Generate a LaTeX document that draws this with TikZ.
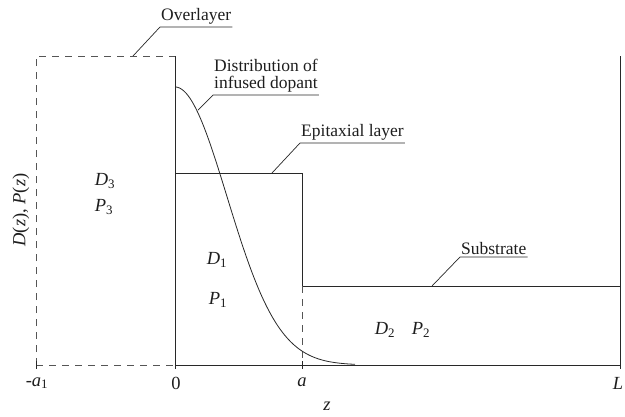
\documentclass[tikz,border=0pt]{standalone}
\usepackage{fontspec}
\setmainfont{Liberation Serif}
\usepackage{tikz}
\usetikzlibrary{positioning,calc}
\definecolor{linecolor}{RGB}{40, 40, 40}
\definecolor{dashcolor}{RGB}{85, 85, 85}
\definecolor{textcolor}{RGB}{30, 30, 30}
\newcommand{\regsym}[2]{\textit{#1}\textsubscript{#2}}
\tikzset{
layerline/.style={
  draw=linecolor,
  line width=0.9pt
},
dashline/.style={
  draw=dashcolor,
  line width=0.9pt,
  dash pattern=on 7pt off 6pt
},
leader/.style={
  draw=linecolor,
  line width=0.7pt
},
calloutlabel/.style={
  anchor=south west,
  align=left,
  inner xsep=1pt,
  inner ysep=2.5pt,
  text=textcolor,
  font=\fontsize{17.5}{17}\selectfont
},
regionlabel/.style={
  text=textcolor,
  font=\fontsize{18.5}{19}\selectfont
},
ticklabel/.style={
  text=textcolor,
  font=\fontsize{18.5}{19}\selectfont
}
}
\begin{document}
\begin{tikzpicture}[x=1pt, y=-1pt]
\useasboundingbox (0,0) rectangle (625,416);

% ============================================================================
% Corners of the layers
% ============================================================================
\coordinate (origin) at (175,365);
\coordinate (leftbot) at (36,365);
\coordinate (lefttop) at (36,56);
\coordinate (zerotop) at (175,56);
\coordinate (epitop) at (175,173);
\coordinate (epicorner) at (302,173);
\coordinate (stepcorner) at (302,286);
\coordinate (aaxis) at (302,365);
\coordinate (Ltop) at (620,56);
\coordinate (Lstep) at (620,286);
\coordinate (Laxis) at (620,365);

% ============================================================================
% Overlayer (dashed)
% ============================================================================
\draw[dashline] (leftbot) -- (lefttop) -- (zerotop);
\draw[dashline] (leftbot) -- (origin);

% ============================================================================
% Epitaxial layer and substrate
% ============================================================================
\draw[layerline] (zerotop) -- (origin) -- (Laxis) -- (Ltop);
\draw[layerline] (epitop) -- (epicorner) -- (stepcorner) -- (Lstep);
\draw[dashline] (stepcorner) -- (aaxis);

% Ticks
\foreach \tx in {36,175,302,620}
  \draw[layerline] (\tx,361) -- (\tx,369);

% Distribution of dopant
\draw[leader, line width=0.8pt] plot[domain=176:355, samples=90]
  (\x, {365-278*exp(-(((\x-175)/100)^2)/0.5392)});

% ============================================================================
% Callouts
% ============================================================================
\coordinate (ovlpt) at (133,56);
\coordinate (dopt) at (198,110);
\coordinate (epipt) at (272,173);
\coordinate (subpt) at (432,286);

\node[calloutlabel] (overlayer) at (160,27) {Overlayer};
\node[calloutlabel] (dopant) at (213,95) {Distribution of\\infused dopant};
\node[calloutlabel] (epitaxial) at (300,143) {Epitaxial layer};
\node[calloutlabel] (substrate) at (460,257) {Substrate};

\draw[leader] (ovlpt) -- (overlayer.south west) -- (overlayer.south east);
\draw[leader] (dopt) -- (dopant.south west) -- (dopant.south east);
\draw[leader] (epipt) -- (epitaxial.south west) -- (epitaxial.south east);
\draw[leader] (subpt) -- (substrate.south west) -- (substrate.south east);

% ============================================================================
% Regions
% ============================================================================
\node[regionlabel] (d3) at (105,181) {\regsym{D}{3}};
\node[regionlabel] (p3) at (104,207) {\regsym{P}{3}};
\node[regionlabel] (d1) at (217,260) {\regsym{D}{1}};
\node[regionlabel] (p1) at (218,300) {\regsym{P}{1}};
\node[regionlabel] (d2) at (385,330) {\regsym{D}{2}};
\node[regionlabel] (p2) at (421,330) {\regsym{P}{2}};

% ============================================================================
% Axes labels
% ============================================================================
\node[ticklabel] (tma) at (37,383) {-\regsym{a}{1}};
\node[ticklabel] (tzero) at (176,383) {0};
\node[ticklabel] (ta) at (302,382) {\textit{a}};
\node[ticklabel] (tL) at (618,383) {\textit{L}};
\node[ticklabel] (zlabel) at (327,406) {\textit{z}};
\node[ticklabel, rotate=90] (ylabel) at (21,210)
  {\textit{D}(\textit{z}), \textit{P}(\textit{z})};

\end{tikzpicture}
\end{document}
